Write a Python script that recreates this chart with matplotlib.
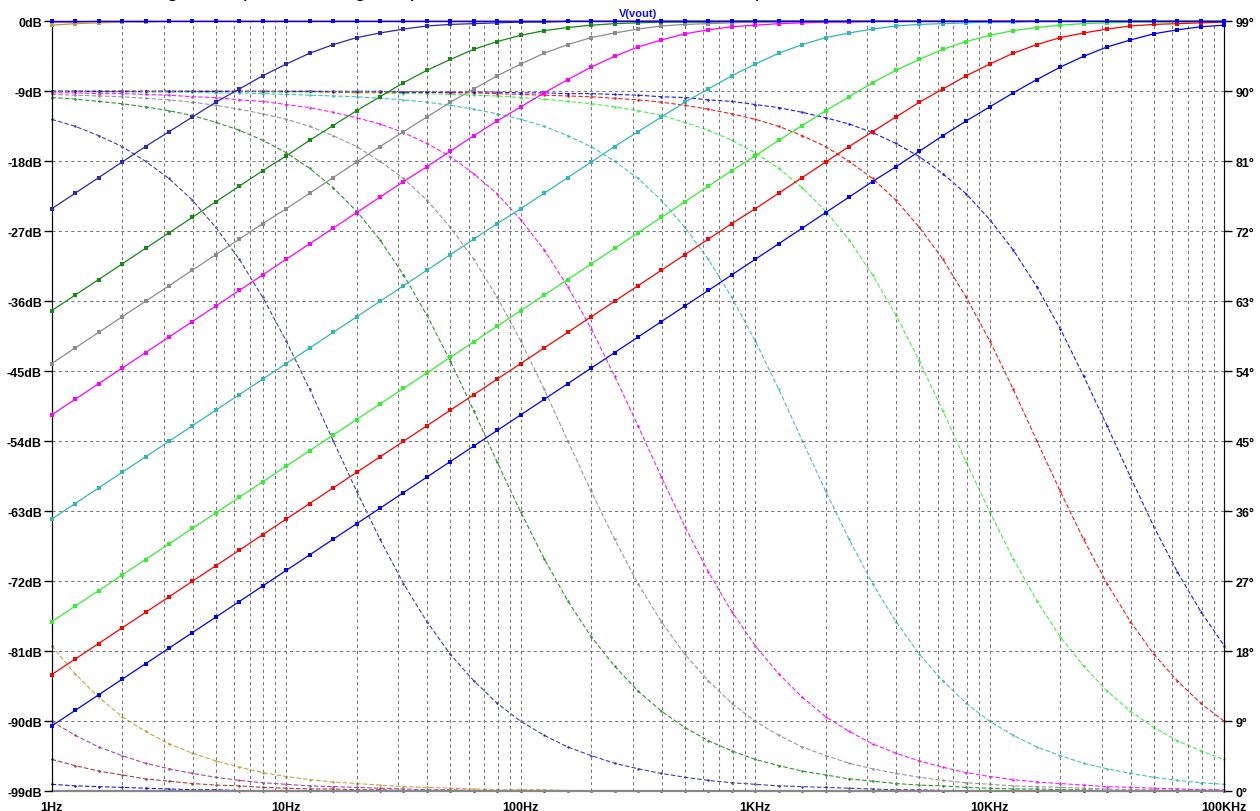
import numpy as np
import matplotlib
matplotlib.use('Agg')
import matplotlib.pyplot as plt
from matplotlib.ticker import FixedLocator, NullFormatter

# ---------------- data ----------------
freq_hz = [1, 1.259, 1.585, 1.995, 2.512, 3.162, 3.981, 5.012, 6.310, 7.943,
           10, 12.59, 15.85, 19.95, 25.12, 31.62, 39.81, 50.12, 63.10, 79.43,
           100, 125.9, 158.5, 199.5, 251.2, 316.2, 398.1, 501.2, 631.0, 794.3,
           1000, 1259, 1585, 1995, 2512, 3162, 3981, 5012, 6310, 7943,
           10000, 12589, 15849, 19953, 25119, 31623, 39811, 50119, 63096, 79433,
           100000]

x_labels = ['1Hz', '10Hz', '100Hz', '1KHz', '10KHz', '100KHz']
x_label_pos = [1, 10, 100, 1000, 10000, 100000]
db_ticks = [-99, -90, -81, -72, -63, -54, -45, -36, -27, -18, -9, 0]
deg_ticks = [0, 9, 18, 27, 36, 45, 54, 63, 72, 81, 90, 99]

# magnitude (dB) and phase (deg) of V(vout), one pair per stepped capacitor
mag_1000u = [0.0, 0.0, 0.0, 0.0, 0.0, 0.0, 0.0, 0.0, 0.0, 0.0,
             0.0, 0.0, 0.0, 0.0, 0.0, 0.0, 0.0, 0.0, 0.0, 0.0,
             0.0, 0.0, 0.0, 0.0, 0.0, 0.0, 0.0, 0.0, 0.0, 0.0,
             0.0, 0.0, 0.0, 0.0, 0.0, 0.0, 0.0, 0.0, 0.0, 0.0,
             0.0, 0.0, 0.0, 0.0, 0.0, 0.0, 0.0, 0.0, 0.0, 0.0,
             0.0]
phase_1000u = [0.9, 0.7, 0.6, 0.5, 0.4, 0.3, 0.2, 0.2, 0.1, 0.1,
               0.1, 0.1, 0.1, 0.0, 0.0, 0.0, 0.0, 0.0, 0.0, 0.0,
               0.0, 0.0, 0.0, 0.0, 0.0, 0.0, 0.0, 0.0, 0.0, 0.0,
               0.0, 0.0, 0.0, 0.0, 0.0, 0.0, 0.0, 0.0, 0.0, 0.0,
               0.0, 0.0, 0.0, 0.0, 0.0, 0.0, 0.0, 0.0, 0.0, 0.0,
               0.0]

mag_220u = [0.0, 0.0, 0.0, 0.0, 0.0, 0.0, 0.0, 0.0, 0.0, 0.0,
            0.0, 0.0, 0.0, 0.0, 0.0, 0.0, 0.0, 0.0, 0.0, 0.0,
            0.0, 0.0, 0.0, 0.0, 0.0, 0.0, 0.0, 0.0, 0.0, 0.0,
            0.0, 0.0, 0.0, 0.0, 0.0, 0.0, 0.0, 0.0, 0.0, 0.0,
            0.0, 0.0, 0.0, 0.0, 0.0, 0.0, 0.0, 0.0, 0.0, 0.0,
            0.0]
phase_220u = [4.1, 3.3, 2.6, 2.1, 1.6, 1.3, 1.0, 0.8, 0.7, 0.5,
              0.4, 0.3, 0.3, 0.2, 0.2, 0.1, 0.1, 0.1, 0.1, 0.1,
              0.0, 0.0, 0.0, 0.0, 0.0, 0.0, 0.0, 0.0, 0.0, 0.0,
              0.0, 0.0, 0.0, 0.0, 0.0, 0.0, 0.0, 0.0, 0.0, 0.0,
              0.0, 0.0, 0.0, 0.0, 0.0, 0.0, 0.0, 0.0, 0.0, 0.0,
              0.0]

mag_100u = [-0.1, -0.1, 0.0, 0.0, 0.0, 0.0, 0.0, 0.0, 0.0, 0.0,
            0.0, 0.0, 0.0, 0.0, 0.0, 0.0, 0.0, 0.0, 0.0, 0.0,
            0.0, 0.0, 0.0, 0.0, 0.0, 0.0, 0.0, 0.0, 0.0, 0.0,
            0.0, 0.0, 0.0, 0.0, 0.0, 0.0, 0.0, 0.0, 0.0, 0.0,
            0.0, 0.0, 0.0, 0.0, 0.0, 0.0, 0.0, 0.0, 0.0, 0.0,
            0.0]
phase_100u = [9.0, 7.2, 5.7, 4.6, 3.6, 2.9, 2.3, 1.8, 1.4, 1.1,
              0.9, 0.7, 0.6, 0.5, 0.4, 0.3, 0.2, 0.2, 0.1, 0.1,
              0.1, 0.1, 0.1, 0.0, 0.0, 0.0, 0.0, 0.0, 0.0, 0.0,
              0.0, 0.0, 0.0, 0.0, 0.0, 0.0, 0.0, 0.0, 0.0, 0.0,
              0.0, 0.0, 0.0, 0.0, 0.0, 0.0, 0.0, 0.0, 0.0, 0.0,
              0.0]

mag_47u = [-0.5, -0.3, -0.2, -0.1, -0.1, 0.0, 0.0, 0.0, 0.0, 0.0,
           0.0, 0.0, 0.0, 0.0, 0.0, 0.0, 0.0, 0.0, 0.0, 0.0,
           0.0, 0.0, 0.0, 0.0, 0.0, 0.0, 0.0, 0.0, 0.0, 0.0,
           0.0, 0.0, 0.0, 0.0, 0.0, 0.0, 0.0, 0.0, 0.0, 0.0,
           0.0, 0.0, 0.0, 0.0, 0.0, 0.0, 0.0, 0.0, 0.0, 0.0,
           0.0]
phase_47u = [18.7, 15.1, 12.1, 9.6, 7.7, 6.1, 4.9, 3.9, 3.1, 2.4,
             1.9, 1.5, 1.2, 1.0, 0.8, 0.6, 0.5, 0.4, 0.3, 0.2,
             0.2, 0.2, 0.1, 0.1, 0.1, 0.1, 0.0, 0.0, 0.0, 0.0,
             0.0, 0.0, 0.0, 0.0, 0.0, 0.0, 0.0, 0.0, 0.0, 0.0,
             0.0, 0.0, 0.0, 0.0, 0.0, 0.0, 0.0, 0.0, 0.0, 0.0,
             0.0]

mag_1u = [-24.1, -22.1, -20.1, -18.1, -16.1, -14.2, -12.3, -10.4, -8.7, -7.0,
          -5.5, -4.1, -3.0, -2.1, -1.5, -1.0, -0.6, -0.4, -0.3, -0.2,
          -0.1, -0.1, 0.0, 0.0, 0.0, 0.0, 0.0, 0.0, 0.0, 0.0,
          0.0, 0.0, 0.0, 0.0, 0.0, 0.0, 0.0, 0.0, 0.0, 0.0,
          0.0, 0.0, 0.0, 0.0, 0.0, 0.0, 0.0, 0.0, 0.0, 0.0,
          0.0]
phase_1u = [86.4, 85.5, 84.3, 82.9, 81.0, 78.8, 76.0, 72.5, 68.4, 63.5,
            57.9, 51.7, 45.1, 38.6, 32.4, 26.7, 21.8, 17.6, 14.2, 11.3,
            9.0, 7.2, 5.7, 4.6, 3.6, 2.9, 2.3, 1.8, 1.4, 1.1,
            0.9, 0.7, 0.6, 0.5, 0.4, 0.3, 0.2, 0.2, 0.1, 0.1,
            0.1, 0.1, 0.1, 0.0, 0.0, 0.0, 0.0, 0.0, 0.0, 0.0,
            0.0]

mag_220n = [-37.2, -35.2, -33.2, -31.2, -29.2, -27.2, -25.2, -23.2, -21.2, -19.2,
            -17.3, -15.3, -13.4, -11.5, -9.7, -7.9, -6.3, -4.9, -3.6, -2.6,
            -1.8, -1.2, -0.8, -0.5, -0.3, -0.2, -0.1, -0.1, -0.1, 0.0,
            0.0, 0.0, 0.0, 0.0, 0.0, 0.0, 0.0, 0.0, 0.0, 0.0,
            0.0, 0.0, 0.0, 0.0, 0.0, 0.0, 0.0, 0.0, 0.0, 0.0,
            0.0]
phase_220n = [89.2, 89.0, 88.7, 88.4, 88.0, 87.5, 86.9, 86.0, 85.0, 83.7,
              82.1, 80.1, 77.6, 74.6, 70.9, 66.4, 61.2, 55.3, 48.9, 42.3,
              35.9, 29.9, 24.5, 19.9, 16.1, 12.9, 10.3, 8.2, 6.5, 5.2,
              4.1, 3.3, 2.6, 2.1, 1.6, 1.3, 1.0, 0.8, 0.7, 0.5,
              0.4, 0.3, 0.3, 0.2, 0.2, 0.1, 0.1, 0.1, 0.1, 0.1,
              0.0]

mag_100n = [-44.0, -42.0, -40.0, -38.0, -36.0, -34.0, -32.0, -30.0, -28.0, -26.0,
            -24.1, -22.1, -20.1, -18.1, -16.1, -14.2, -12.3, -10.4, -8.7, -7.0,
            -5.5, -4.1, -3.0, -2.1, -1.5, -1.0, -0.6, -0.4, -0.3, -0.2,
            -0.1, -0.1, 0.0, 0.0, 0.0, 0.0, 0.0, 0.0, 0.0, 0.0,
            0.0, 0.0, 0.0, 0.0, 0.0, 0.0, 0.0, 0.0, 0.0, 0.0,
            0.0]
phase_100n = [89.6, 89.5, 89.4, 89.3, 89.1, 88.9, 88.6, 88.2, 87.7, 87.1,
              86.4, 85.5, 84.3, 82.9, 81.0, 78.8, 76.0, 72.5, 68.4, 63.5,
              57.9, 51.7, 45.1, 38.6, 32.4, 26.7, 21.8, 17.6, 14.2, 11.3,
              9.0, 7.2, 5.7, 4.6, 3.6, 2.9, 2.3, 1.8, 1.4, 1.1,
              0.9, 0.7, 0.6, 0.5, 0.4, 0.3, 0.2, 0.2, 0.1, 0.1,
              0.1]

mag_47n = [-50.6, -48.6, -46.6, -44.6, -42.6, -40.6, -38.6, -36.6, -34.6, -32.6,
           -30.6, -28.6, -26.6, -24.6, -22.6, -20.6, -18.7, -16.7, -14.7, -12.8,
           -11.0, -9.2, -7.5, -5.9, -4.5, -3.3, -2.4, -1.6, -1.1, -0.7,
           -0.5, -0.3, -0.2, -0.1, -0.1, 0.0, 0.0, 0.0, 0.0, 0.0,
           0.0, 0.0, 0.0, 0.0, 0.0, 0.0, 0.0, 0.0, 0.0, 0.0,
           0.0]
phase_47n = [89.8, 89.8, 89.7, 89.7, 89.6, 89.5, 89.3, 89.2, 88.9, 88.7,
             88.3, 87.9, 87.3, 86.6, 85.8, 84.7, 83.3, 81.6, 79.4, 76.8,
             73.5, 69.6, 64.9, 59.5, 53.4, 47.0, 40.4, 34.0, 28.2, 23.1,
             18.7, 15.1, 12.1, 9.6, 7.7, 6.1, 4.9, 3.9, 3.1, 2.4,
             1.9, 1.5, 1.2, 1.0, 0.8, 0.6, 0.5, 0.4, 0.3, 0.2,
             0.2]

mag_10n = [-64.0, -62.0, -60.0, -58.0, -56.0, -54.0, -52.0, -50.0, -48.0, -46.0,
           -44.0, -42.0, -40.0, -38.0, -36.0, -34.0, -32.0, -30.0, -28.0, -26.0,
           -24.1, -22.1, -20.1, -18.1, -16.1, -14.2, -12.3, -10.4, -8.7, -7.0,
           -5.5, -4.1, -3.0, -2.1, -1.5, -1.0, -0.6, -0.4, -0.3, -0.2,
           -0.1, -0.1, 0.0, 0.0, 0.0, 0.0, 0.0, 0.0, 0.0, 0.0,
           0.0]
phase_10n = [90.0, 90.0, 89.9, 89.9, 89.9, 89.9, 89.9, 89.8, 89.8, 89.7,
             89.6, 89.5, 89.4, 89.3, 89.1, 88.9, 88.6, 88.2, 87.7, 87.1,
             86.4, 85.5, 84.3, 82.9, 81.0, 78.8, 76.0, 72.5, 68.4, 63.5,
             57.9, 51.7, 45.1, 38.6, 32.4, 26.7, 21.8, 17.6, 14.2, 11.3,
             9.0, 7.2, 5.7, 4.6, 3.6, 2.9, 2.3, 1.8, 1.4, 1.1,
             0.9]

mag_2n2 = [-77.2, -75.2, -73.2, -71.2, -69.2, -67.2, -65.2, -63.2, -61.2, -59.2,
           -57.2, -55.2, -53.2, -51.2, -49.2, -47.2, -45.2, -43.2, -41.2, -39.2,
           -37.2, -35.2, -33.2, -31.2, -29.2, -27.2, -25.2, -23.2, -21.2, -19.2,
           -17.3, -15.3, -13.4, -11.5, -9.7, -7.9, -6.3, -4.9, -3.6, -2.6,
           -1.8, -1.2, -0.8, -0.5, -0.3, -0.2, -0.1, -0.1, -0.1, 0.0,
           0.0]
phase_2n2 = [90.0, 90.0, 90.0, 90.0, 90.0, 90.0, 90.0, 90.0, 90.0, 89.9,
             89.9, 89.9, 89.9, 89.8, 89.8, 89.7, 89.7, 89.6, 89.5, 89.4,
             89.2, 89.0, 88.7, 88.4, 88.0, 87.5, 86.9, 86.0, 85.0, 83.7,
             82.1, 80.1, 77.6, 74.6, 70.9, 66.4, 61.2, 55.3, 48.9, 42.3,
             35.9, 29.9, 24.5, 19.9, 16.1, 12.9, 10.3, 8.2, 6.5, 5.2,
             4.1]

mag_1n = [-84.0, -82.0, -80.0, -78.0, -76.0, -74.0, -72.0, -70.0, -68.0, -66.0,
          -64.0, -62.0, -60.0, -58.0, -56.0, -54.0, -52.0, -50.0, -48.0, -46.0,
          -44.0, -42.0, -40.0, -38.0, -36.0, -34.0, -32.0, -30.0, -28.0, -26.0,
          -24.1, -22.1, -20.1, -18.1, -16.1, -14.2, -12.3, -10.4, -8.7, -7.0,
          -5.5, -4.1, -3.0, -2.1, -1.5, -1.0, -0.6, -0.4, -0.3, -0.2,
          -0.1]
phase_1n = [90.0, 90.0, 90.0, 90.0, 90.0, 90.0, 90.0, 90.0, 90.0, 90.0,
            90.0, 90.0, 89.9, 89.9, 89.9, 89.9, 89.9, 89.8, 89.8, 89.7,
            89.6, 89.5, 89.4, 89.3, 89.1, 88.9, 88.6, 88.2, 87.7, 87.1,
            86.4, 85.5, 84.3, 82.9, 81.0, 78.8, 76.0, 72.5, 68.4, 63.5,
            57.9, 51.7, 45.1, 38.6, 32.4, 26.7, 21.8, 17.6, 14.2, 11.3,
            9.0]

mag_470p = [-90.6, -88.6, -86.6, -84.6, -82.6, -80.6, -78.6, -76.6, -74.6, -72.6,
            -70.6, -68.6, -66.6, -64.6, -62.6, -60.6, -58.6, -56.6, -54.6, -52.6,
            -50.6, -48.6, -46.6, -44.6, -42.6, -40.6, -38.6, -36.6, -34.6, -32.6,
            -30.6, -28.6, -26.6, -24.6, -22.6, -20.6, -18.7, -16.7, -14.7, -12.8,
            -11.0, -9.2, -7.5, -5.9, -4.5, -3.3, -2.4, -1.6, -1.1, -0.7,
            -0.5]
phase_470p = [90.0, 90.0, 90.0, 90.0, 90.0, 90.0, 90.0, 90.0, 90.0, 90.0,
              90.0, 90.0, 90.0, 90.0, 90.0, 89.9, 89.9, 89.9, 89.9, 89.9,
              89.8, 89.8, 89.7, 89.7, 89.6, 89.5, 89.3, 89.2, 88.9, 88.7,
              88.3, 87.9, 87.3, 86.6, 85.8, 84.7, 83.3, 81.6, 79.4, 76.8,
              73.5, 69.6, 64.9, 59.5, 53.4, 47.0, 40.4, 34.0, 28.2, 23.1,
              18.7]

mags = [mag_1000u, mag_220u, mag_100u, mag_47u, mag_1u, mag_220n,
        mag_100n, mag_47n, mag_10n, mag_2n2, mag_1n, mag_470p]
phases = [phase_1000u, phase_220u, phase_100u, phase_47u, phase_1u, phase_220n,
          phase_100n, phase_47n, phase_10n, phase_2n2, phase_1n, phase_470p]
colors = ['#0000ff', '#a02828', '#a030a0', '#c89632', '#2828b4', '#158a15',
          '#8c8c8c', '#ff00ff', '#30b8b8', '#30f030', '#ff0000', '#0000ff']

# ---------------- figure ----------------
W, H = 1260, 812
fig = plt.figure(figsize=(W / 100, H / 100), dpi=100)
L, Rr, T, B = 51.7, 1224.3, 22.3, 792.3
ax = fig.add_axes([L / W, (H - B) / H, (Rr - L) / W, (B - T) / H])
ax.set_xscale('log')
ax.set_xlim(freq_hz[0], freq_hz[-1])
ax.set_ylim(db_ticks[0], db_ticks[-1])
ax2 = ax.twinx()
ax2.set_ylim(deg_ticks[0], deg_ticks[-1])

fam = ['Liberation Sans', 'DejaVu Sans']
fnt = dict(family=fam, weight='bold', size=9)
gridkw = dict(color='#777777', linestyle=(0, (3, 3)), linewidth=0.75)

ax.xaxis.set_major_locator(FixedLocator(x_label_pos))
ax.xaxis.set_minor_locator(FixedLocator([m * 10 ** d for d in range(5) for m in range(2, 10)]))
ax.xaxis.set_minor_formatter(NullFormatter())
ax.set_xticklabels(x_labels, **fnt)
ax.tick_params(axis='x', which='both', length=0, pad=7)
ax.set_yticks(db_ticks)
ax.set_yticklabels([f'{v}dB' for v in db_ticks], **fnt)
ax.tick_params(axis='y', length=6, width=1, pad=1, direction='out')
ax2.set_yticks(deg_ticks)
ax2.set_yticklabels([f'{v}\u00b0' for v in deg_ticks], **fnt)
ax2.tick_params(axis='y', length=6, width=1, pad=2, direction='out')
ax.grid(True, which='both', axis='x', **gridkw)
ax.grid(True, which='major', axis='y', **gridkw)
ax.set_axisbelow(True)

ax.spines['top'].set_visible(False)
ax2.spines['top'].set_visible(False)
ax.spines['bottom'].set_visible(False)
ax2.spines['bottom'].set_color('#888888')
ax2.spines['bottom'].set_linewidth(1.6)

# phase traces (dashed, right axis)
for ph, c in zip(phases, colors):
    ax2.plot(freq_hz, ph, color=c, lw=0.8, linestyle=(0, (4, 2)), marker='o', ms=1.8,
             mew=0, mfc=c, alpha=0.9, clip_on=False, zorder=2)

# magnitude traces (solid, left axis)
order = list(range(1, len(mags))) + [0]
for i in order:
    ax.plot(freq_hz, mags[i], color=colors[i], lw=0.9, marker='s', ms=2.6, mew=0,
            mfc=colors[i], clip_on=False, zorder=3)
ax.set_zorder(ax2.get_zorder() + 1)
ax.patch.set_visible(False)

fig.text((L + Rr) / 2 / W, 1 - 14 / H, 'V(vout)', color='#1010ff', ha='center', va='center',
         family=fam, weight='bold', size=8)
fig.text(50 / W, 1 + 4 / H,
         'The resulting Bode plot showing the passband at the different cutoff frequencies is shown below.',
         family=fam, size=16, va='baseline', ha='left')

fig.savefig('out.png', dpi=100)
